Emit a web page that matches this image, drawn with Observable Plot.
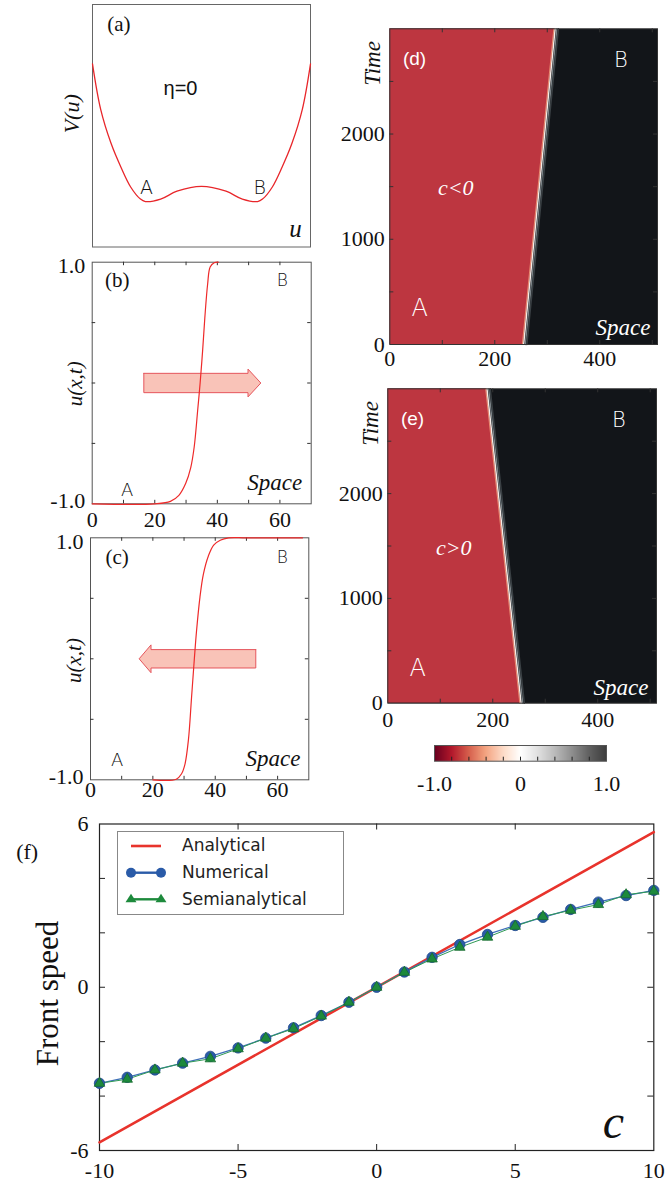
<!DOCTYPE html>
<html><head><meta charset="utf-8">
<script src="https://cdn.jsdelivr.net/npm/d3@7"></script>
<script src="https://cdn.jsdelivr.net/npm/@observablehq/plot@0.6"></script>
<style>
html,body{margin:0;padding:0;background:#fff;overflow:hidden;}
#root{position:relative;width:669px;height:1183px;overflow:hidden;background:#fff;}
.legend{position:absolute;background:#fff;border:1px solid #888;box-sizing:border-box;font-family:"DejaVu Sans",sans-serif;font-size:17px;color:#222;}
.legend span{position:absolute;left:64px;line-height:20px;white-space:nowrap;}
</style></head>
<body><div id="root"></div>
<script>
// ---------- data ----------
// (a) potential V(u)
const potU = [-2, -1.85, -1.66, -1.48, -1.30, -1.12, -1.03, -0.75, -0.45, 0, 0.45, 0.75, 1.03, 1.12, 1.30, 1.48, 1.66, 1.85, 2];
const potV = [2.02, 1.27, 0.71, 0.32, -0.01, -0.21, -0.25, -0.21, -0.08, 0, -0.08, -0.21, -0.25, -0.21, -0.01, 0.32, 0.71, 1.27, 2.02];
// (b) front profile
const frontBX = [0, 20, 25, 27.7, 29.9, 31.5, 32.6, 33.7, 34.5, 35.3, 36, 36.9, 37.7, 39, 40.3];
const frontBU = [-1, -1, -0.98, -0.93, -0.83, -0.70, -0.53, -0.23, 0, 0.27, 0.54, 0.82, 0.96, 0.995, 1];
// (c) front profile
const frontCX = [20, 27.5, 29.2, 30.3, 31.4, 32.4, 33.3, 34, 35.1, 36.2, 37.8, 39.5, 41.6, 44.3, 50, 68];
const frontCU = [-1, -0.995, -0.95, -0.87, -0.67, -0.32, 0, 0.23, 0.51, 0.70, 0.85, 0.94, 0.98, 1.0, 1.0, 1.0];
// arrows (outline vertices, data units)
const arrowBX = [16.5, 49.8, 49.8, 53.9, 49.8, 49.8, 16.5, 16.5];
const arrowBU = [0.08, 0.08, 0.115, 0, -0.115, -0.08, -0.08, 0.08];
const arrowCX = [53.0, 19.4, 19.4, 15.6, 19.4, 19.4, 53.0, 53.0];
const arrowCU = [0.076, 0.076, 0.115, 0, -0.115, -0.076, -0.076, 0.076];
// (d),(e) front position in space-time
const timeEnds = [0, 3000];
const frontDX = [255, 315];
const frontEX = [254, 189];
// (f) front speed vs c
const cValues = [-10, -9, -8, -7, -6, -5, -4, -3, -2, -1, 0, 1, 2, 3, 4, 5, 6, 7, 8, 9, 10];
const numerical = [-3.53, -3.31, -3.04, -2.79, -2.54, -2.23, -1.87, -1.49, -1.04, -0.55, 0, 0.56, 1.10, 1.57, 1.94, 2.27, 2.57, 2.86, 3.13, 3.37, 3.56];
const semianalytical = [-3.53, -3.38, -3.04, -2.79, -2.63, -2.26, -1.87, -1.52, -1.06, -0.55, 0, 0.55, 1.04, 1.47, 1.84, 2.24, 2.60, 2.83, 3.04, 3.40, 3.53];
const analyticC = [-10, 10];
const analyticV = [-5.7, 5.7];
// tick values
const bcTicksX = [0, 20, 40, 60], bcMinorX = [10, 20, 30, 40, 50, 60], bcTicksY = [-0.5, 0, 0.5];
const hmLabelsX = [0, 200, 400], hmLabelsY = [0, 1000, 2000];
const hmTicksX = [100, 200, 300, 400, 500], hmTicksY = [500, 1000, 1500, 2000, 2500];
const cbLabels = [-1, 0, 1], cbTicks = [-0.8, -0.6, -0.4, -0.2, 0, 0.2, 0.4, 0.6, 0.8];
const fLabelsX = [-10, -5, 0, 5, 10], fLabelsY = [-6, 0, 6], fTicksX = [-5, 0, 5], fTicksY = [-4, -2, 0, 2, 4];
// colour bar stops (RdGy-like, grey end lightened as in the picture)
const cbStops = [-1, -0.8, -0.6, -0.4, -0.2, 0, 0.2, 0.4, 0.6, 0.8, 1];
const cbColors = ["#67001f", "#b2182b", "#d6604d", "#f4a582", "#fddbc7", "#ffffff", "#e0e0e0", "#bababa", "#8e8e8e", "#606060", "#3d3d3d"];

// ---------- helpers ----------
const root = document.getElementById("root");
function place(svg, left, top) {
  svg.style.position = "absolute"; svg.style.left = left + "px"; svg.style.top = top + "px";
  svg.style.background = "transparent"; svg.style.overflow = "visible"; svg.style.maxWidth = "none";
  root.appendChild(svg);
}
const SERIF = "Liberation Serif";
const baseStyle = {fontFamily: SERIF, fontSize: "20px", color: "#111", background: "transparent", overflow: "visible"};
const ax = {fontFamily: SERIF, fontSize: 22, fill: "#111", label: null, tickSize: 0};
function label(str, dx, dy, o = {}) {
  return Plot.text([str], {text: d => d, frameAnchor: "top-left", dx, dy,
    textAnchor: o.anchor || "middle", lineAnchor: "middle",
    fontFamily: o.font || SERIF, fontSize: o.size || 20,
    fontStyle: o.style || "normal", fontWeight: o.weight || "normal",
    fill: o.fill || "#111", rotate: o.rotate || 0});
}
function ticksXY(xs, ys, len, fw, fh, stroke) {
  const m = [];
  if (xs) m.push(Plot.ruleX(xs, {x: d => d, insetTop: fh - len, stroke}), Plot.ruleX(xs, {x: d => d, insetBottom: fh - len, stroke}));
  if (ys) m.push(Plot.ruleY(ys, {y: d => d, insetRight: fw - len, stroke}), Plot.ruleY(ys, {y: d => d, insetLeft: fw - len, stroke}));
  return m;
}
const hand = {font: "DejaVu Sans", weight: 300};

// ---------- (a) ----------
const potRows = potU.map((u, i) => ({u, V: potV[i]}));
place(Plot.plot({
  width: 330, height: 255, marginLeft: 92, marginRight: 20, marginTop: 4, marginBottom: 8.5,
  x: {domain: [-2, 2], axis: null}, y: {domain: [-1, 3], axis: null}, style: baseStyle,
  marks: [
    Plot.frame({stroke: "#666"}),
    Plot.line(potRows, {x: "u", y: "V", stroke: "#e8262a", strokeWidth: 1.3, curve: "catmull-rom"}),
    label("(a)", 26.3, 19.3, {size: 21}),
    label("η=0", 88, 84.3, {font: "Liberation Sans", size: 20}),
    label("V(u)", -20.3, 109.3, {style: "italic", size: 22, rotate: -90}),
    label("u", 203, 224, {style: "italic", size: 25}),
    label("A", 54, 183, {...hand, size: 19}),
    label("B", 167.3, 183, {...hand, size: 19})
  ]
}), 0, 0);

// ---------- (b) ----------
const frontBRows = frontBX.map((x, i) => ({x, u: frontBU[i]}));
const arrowBRows = arrowBX.map((x, i) => ({x, u: arrowBU[i]}));
place(Plot.plot({
  width: 330, height: 280, marginLeft: 91.7, marginRight: 19.3, marginTop: 6.7, marginBottom: 31.7,
  x: {domain: [0, 70]}, y: {domain: [-1, 1]}, style: baseStyle,
  marks: [
    Plot.frame({stroke: "#555"}),
    ...ticksXY(bcMinorX, bcTicksY, 3.5, 219, 241.6, "#333"),
    Plot.axisX({...ax, ticks: bcTicksX, tickPadding: 8}),
    Plot.axisY({...ax, ticks: [1], tickPadding: 7, dy: 4, tickFormat: d => d.toFixed(1)}),
    Plot.axisY({...ax, ticks: [-1], tickPadding: 7, dy: -3, tickFormat: d => d.toFixed(1)}),
    Plot.line(arrowBRows, {x: "x", y: "u", fill: "#f9c3b8", stroke: "#e5555c", strokeWidth: 1, curve: "linear"}),
    Plot.line(frontBRows, {x: "x", y: "u", stroke: "#ee2a2a", strokeWidth: 1.2, curve: "catmull-rom"}),
    label("(b)", 25, 18.3, {size: 21}),
    label("B", 190, 18.3, {...hand, size: 17}),
    label("A", 35, 227.6, {...hand, size: 18}),
    label("Space", 210, 220, {anchor: "end", style: "italic", size: 23}),
    label("u(x,t)", -16.7, 121.6, {style: "italic", size: 21, rotate: -90})
  ]
}), 0, 255);

// ---------- (c) ----------
const frontCRows = frontCX.map((x, i) => ({x, u: frontCU[i]}));
const arrowCRows = arrowCX.map((x, i) => ({x, u: arrowCU[i]}));
place(Plot.plot({
  width: 330, height: 270, marginLeft: 90, marginRight: 21.7, marginTop: 2.3, marginBottom: 25.7,
  x: {domain: [0, 70]}, y: {domain: [-1, 1]}, style: baseStyle,
  marks: [
    Plot.frame({stroke: "#555"}),
    ...ticksXY(bcMinorX, bcTicksY, 3.5, 218.3, 242, "#333"),
    Plot.axisX({...ax, ticks: bcTicksX, tickPadding: 1.5}),
    Plot.axisY({...ax, ticks: [1], tickPadding: 7, dy: 4, tickFormat: d => d.toFixed(1)}),
    Plot.axisY({...ax, ticks: [-1], tickPadding: 7, dy: -3, tickFormat: d => d.toFixed(1)}),
    Plot.line(arrowCRows, {x: "x", y: "u", fill: "#f9c3b8", stroke: "#e5555c", strokeWidth: 1, curve: "linear"}),
    Plot.line(frontCRows, {x: "x", y: "u", stroke: "#ee2a2a", strokeWidth: 1.2, curve: "catmull-rom"}),
    label("(c)", 26.7, 19.4, {size: 21}),
    label("B", 191.7, 19.4, {...hand, size: 17}),
    label("A", 26.7, 222.7, {...hand, size: 18}),
    label("Space", 210, 221, {anchor: "end", style: "italic", size: 23}),
    label("u(x,t)", -16.7, 122.7, {style: "italic", size: 21, rotate: -90})
  ]
}), 0, 535);

// ---------- heatmaps (d), (e) ----------
function heatmap(frontX, tag, cText, xPad) {
  const rows = timeEnds.map((t, i) => ({t, x: frontX[i]}));
  return [
    Plot.frame({fill: "#121519"}),
    Plot.areaX(rows, {y: "t", x1: 0, x2: "x", fill: "#bd3640"}),
    Plot.line(rows, {x: "x", y: "t", stroke: "#e98d72", strokeWidth: 1, dx: -1.3}),
    Plot.line(rows, {x: "x", y: "t", stroke: "#f6ece6", strokeWidth: 1.4}),
    Plot.line(rows, {x: "x", y: "t", stroke: "#7c8488", strokeWidth: 1.3, dx: 1.7}),
    Plot.line(rows, {x: "x", y: "t", stroke: "#3a4044", strokeWidth: 1.5, dx: 3.2}),
    Plot.frame({stroke: "#333"}),
    Plot.axisX({...ax, ticks: hmLabelsX, tickPadding: xPad, tickFormat: d => String(d)}),
    Plot.axisY({...ax, ticks: hmLabelsY, tickPadding: 5, tickFormat: d => String(d)}),
    label(tag, 24.7, 29.7, {font: "Liberation Sans", size: 19, fill: "#fff"}),
    label("B", 231, 31, {...hand, size: 21, fill: "#fff"}),
    label(cText, 66, 158.7, {style: "italic", size: 22, fill: "#fff"}),
    label("A", 30, 279.7, {...hand, size: 24, fill: "#fff"}),
    label("Space", 260.7, 299, {anchor: "end", style: "italic", size: 23, fill: "#fff"}),
    label("Time", -17.3, 34.7, {style: "italic", size: 23, rotate: -90})
  ];
}
place(Plot.plot({
  width: 339, height: 380, marginLeft: 59.3, marginRight: 12, marginTop: 28.3, marginBottom: 36,
  x: {domain: [0, 510]}, y: {domain: [0, 3000]}, style: baseStyle,
  marks: [...heatmap(frontDX, "(d)", "c<0", 6), ...ticksXY(hmTicksX, hmTicksY, 4, 267.7, 315.7, "#333")]
}), 330, 0);
place(Plot.plot({
  width: 339, height: 345, marginLeft: 57.3, marginRight: 13, marginTop: 8.3, marginBottom: 22.3,
  x: {domain: [0, 512]}, y: {domain: [0, 3000]}, style: baseStyle,
  marks: [...heatmap(frontEX, "(e)", "c>0", 8), ...ticksXY(hmTicksX, hmTicksY, 4, 268.7, 314.4, "#333")]
}), 330, 380);

// ---------- colorbar ----------
place(Plot.plot({
  width: 339, height: 65, marginLeft: 104, marginRight: 63, marginTop: 10, marginBottom: 39.3,
  x: {domain: [-1, 1]}, y: {domain: [0, 1], axis: null}, style: baseStyle,
  color: {type: "linear", domain: cbStops, range: cbColors},
  marks: [
    Plot.raster({x1: -1, x2: 1, y1: 0, y2: 1, fill: (x, y) => x, width: 172, height: 1, imageRendering: "auto"}),
    Plot.ruleX(cbTicks, {x: d => d, insetTop: 11.7, stroke: "#222"}),
    Plot.frame({stroke: "#555"}),
    Plot.axisX({...ax, ticks: cbLabels, tickPadding: 14, tickFormat: d => d === 0 ? "0" : d.toFixed(1)})
  ]
}), 330, 735);

// ---------- (f) ----------
const numRows = cValues.map((c, i) => ({c, v: numerical[i]}));
const semiRows = cValues.map((c, i) => ({c, v: semianalytical[i]}));
const anaRows = analyticC.map((c, i) => ({c, v: analyticV[i]}));
place(Plot.plot({
  width: 669, height: 383, marginLeft: 99, marginRight: 15.7, marginTop: 23.5, marginBottom: 33,
  x: {domain: [-10, 10]}, y: {domain: [-6, 6]}, style: {...baseStyle, fontSize: "22px"},
  marks: [
    Plot.frame({stroke: "#222", strokeWidth: 1.2}),
    ...ticksXY(fTicksX, fTicksY, 6, 554.3, 326.5, "#222"),
    Plot.axisX({...ax, fontSize: 22, ticks: fLabelsX, tickPadding: 12, tickFormat: d => String(d)}),
    Plot.axisY({...ax, fontSize: 22, ticks: fLabelsY, tickPadding: 11, tickFormat: d => String(d)}),
    Plot.line(anaRows, {x: "c", y: "v", stroke: "#e8332c", strokeWidth: 2.6}),
    Plot.line(numRows, {x: "c", y: "v", stroke: "#3d6fb8", strokeWidth: 1.3}),
    Plot.line(semiRows, {x: "c", y: "v", stroke: "#2f9a55", strokeWidth: 1}),
    Plot.dot(numRows, {x: "c", y: "v", r: 5.2, fill: "#2a5ba8", stroke: "#1f4a8a", strokeWidth: 0.8}),
    Plot.dot(semiRows, {x: "c", y: "v", symbol: "triangle", r: 3.9, fill: "#1d8a3c", stroke: "#156b2d", strokeWidth: 0.8}),
    label("Front speed", -51, 169.5, {size: 31, rotate: -90}),
    label("(f)", -72.3, 28.2, {size: 22}),
    label("c", 514, 299, {style: "italic", size: 48})
  ]
}), 0, 800);

// legend for (f)
const legend = document.createElement("div");
legend.className = "legend";
legend.style.cssText = "left:117px;top:831px;width:227px;height:84px;";
legend.innerHTML = `
<svg width="60" height="84" style="position:absolute;left:0;top:0;overflow:visible">
  <line x1="13" x2="43" y1="14" y2="14" stroke="#e8332c" stroke-width="2.6"/>
  <line x1="13" x2="43" y1="40.7" y2="40.7" stroke="#2a5ba8" stroke-width="2.4"/>
  <circle cx="13" cy="40.7" r="5" fill="#2a5ba8"/><circle cx="43" cy="40.7" r="5" fill="#2a5ba8"/>
  <line x1="13" x2="43" y1="67.3" y2="67.3" stroke="#1d8a3c" stroke-width="2.4"/>
  <path d="M13,61.8L18.5,70.3L7.5,70.3Z" fill="#1d8a3c"/><path d="M43,61.8L48.5,70.3L37.5,70.3Z" fill="#1d8a3c"/>
</svg>
<span style="top:3px">Analytical</span>
<span style="top:30px">Numerical</span>
<span style="top:57px">Semianalytical</span>`;
root.appendChild(legend);
</script>
</body></html>
